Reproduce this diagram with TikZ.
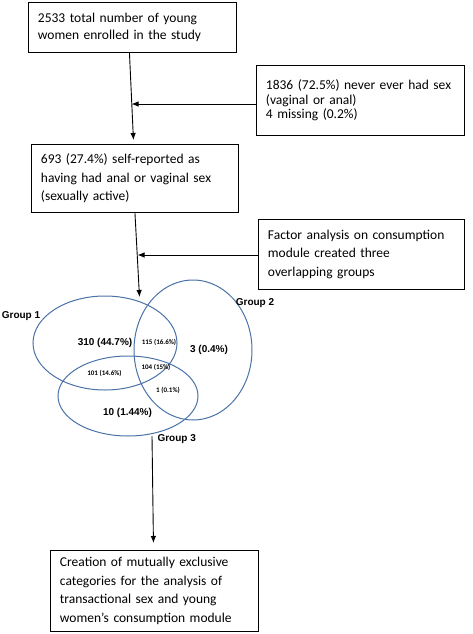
\documentclass[tikz,border=0pt]{standalone}
\usepackage{fontspec}
\setmainfont{Carlito}
\newfontfamily\arialfont{Liberation Sans}
\usepackage{tikz}
\usetikzlibrary{arrows.meta}
\definecolor{venn}{HTML}{4A72A6}

\begin{document}
\begin{tikzpicture}[x=1pt, y=-1pt,
		box/.style={draw, line width=0.9pt, anchor=north west, align=left, inner xsep=9.5pt,
			font=\fontsize{13.5}{18.5}\selectfont},
		arr/.style={-{Latex[length=7pt,width=5.5pt]}, line width=0.9pt},
		ring/.style={draw=venn, line width=1pt},
		grp/.style={font=\arialfont\bfseries\fontsize{10}{12}\selectfont},
		tiny/.style={font=\bfseries\fontsize{7}{8}\selectfont}]
		\useasboundingbox (0,0) rectangle (472,634);
		% boxes
		\node[box, text width=189pt, minimum height=50pt, font=\fontsize{13.5}{16.5}\selectfont] (total) at (28,2)
			{2533 total number of young\\women enrolled in the study};
		\node[box, text width=189pt, minimum height=70pt, font=\fontsize{13.5}{14.5}\selectfont] (never) at (256,65)
			{1836 (72.5\%) never ever had sex\\(vaginal or anal)\\4 missing (0.2\%)};
		\node[box, text width=188pt, minimum height=68pt] (active) at (31,144)
			{693 (27.4\%) self-reported as\\having had anal or vaginal sex\\(sexually active)};
		\node[box, text width=187pt, minimum height=70pt] (factor) at (258,219)
			{Factor analysis on consumption\\module created three\\overlapping groups};
		\node[box, text width=189pt, minimum height=81pt] (final) at (50,550)
			{Creation of mutually exclusive\\categories for the analysis of\\transactional sex and young\\women’s consumption module};
		% junctions
		\coordinate (j1) at (131.5,104);
		\coordinate (j2) at (137.5,255);
		\coordinate (vtop) at (139.5,297);
		\coordinate (g3b) at (152,436);
		% arrows
		\draw[arr] ([xshift=-3pt]total.south) -- ([xshift=-1.5pt,yshift=4pt]active.north);
		\draw[arr] (never.west |- j1) -- (j1);
		\draw[arr] (active.south) -- (vtop);
		\draw[arr] (factor.west |- j2) -- (j2);
		\draw[arr] (g3b) -- ([xshift=-1pt,yshift=7pt]final.north);
		% venn
		\draw[ring] (105,343) ellipse [x radius=72, y radius=47];
		\draw[ring] (193,350) ellipse [x radius=59, y radius=70];
		\draw[ring] (128,396) ellipse [x radius=70, y radius=40];
		\node[grp] (g1) at (21,316) {Group 1};
		\node[grp] (g2) at (255,303) {Group 2};
		\node[grp, anchor=west] (g3) at (154,439) {Group 3};
		\node[grp] (n1) at (105,343) {310 (44.7\%)};
		\node[grp] (n2) at (209,350) {3 (0.4\%)};
		\node[grp] (n3) at (127.5,413) {10 (1.44\%)};
		\node[tiny] (n12) at (159,342) {115 (16.6\%)};
		\node[tiny] (n123) at (156,367) {104 (15\%)};
		\node[tiny] (n13) at (104.5,373) {101 (14.6\%)};
		\node[tiny] (n23) at (168,390) {1 (0.1\%)};
	\end{tikzpicture}
\end{document}
